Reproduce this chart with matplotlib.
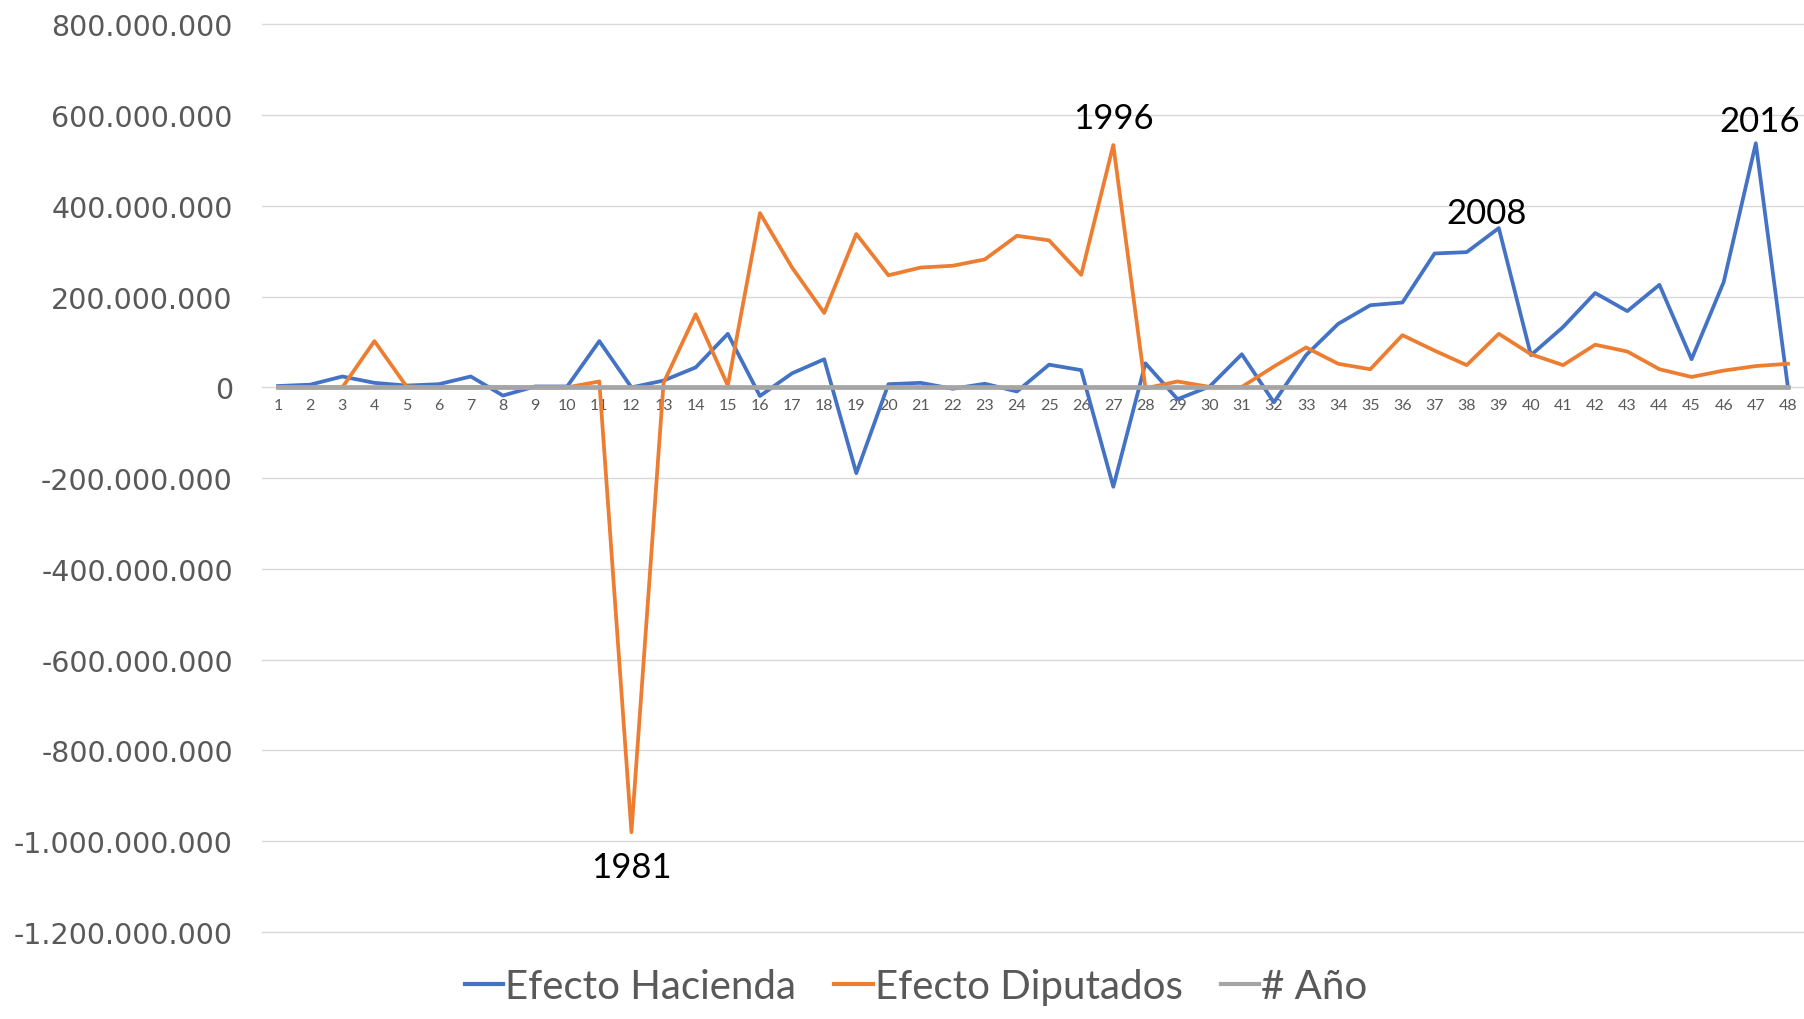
import matplotlib
matplotlib.use("Agg")
import matplotlib.pyplot as plt
from matplotlib.ticker import FuncFormatter

# ---- data ----
anio = [1, 2, 3, 4, 5, 6, 7, 8, 9, 10, 11, 12, 13, 14, 15, 16, 17, 18, 19, 20, 21, 22, 23, 24,
        25, 26, 27, 28, 29, 30, 31, 32, 33, 34, 35, 36, 37, 38, 39, 40, 41, 42, 43, 44, 45, 46, 47, 48]

efecto_hacienda = [3e6, 6e6, 24e6, 10e6, 4e6, 7e6, 24e6, -18e6, 2e6, 2e6, 102e6, 0, 15e6, 44e6,
                   118e6, -19e6, 31e6, 62e6, -189e6, 7e6, 10e6, -3e6, 8e6, -9e6, 50e6, 38e6,
                   -219e6, 53e6, -26e6, 2e6, 73e6, -33e6, 71e6, 140e6, 181e6, 187e6, 295e6,
                   298e6, 351e6, 71e6, 133e6, 208e6, 168e6, 226e6, 62e6, 232e6, 538e6, 0]

efecto_diputados = [0, 0, 0, 102e6, 2e6, 0, 0, 0, 0, 0, 13e6, -980e6, 10e6, 161e6, 4e6, 384e6,
                    264e6, 164e6, 338e6, 247e6, 264e6, 268e6, 282e6, 334e6, 324e6, 248e6, 534e6,
                    -2e6, 13e6, 1e6, 1e6, 46e6, 88e6, 52e6, 40e6, 115e6, 81e6, 49e6, 118e6, 73e6,
                    49e6, 94e6, 79e6, 40e6, 23e6, 37e6, 47e6, 52e6]

y_ticks = [-1.2e9, -1.0e9, -8e8, -6e8, -4e8, -2e8, 0, 2e8, 4e8, 6e8, 8e8]

# annotations: (label, series, index, offset in points)
notes = [("1981", "dip", 12, (0, -25)),
         ("1996", "dip", 27, (0, 19.5)),
         ("2008", "hac", 39, (-8.5, 11)),
         ("2016", "hac", 47, (3, 16))]

# ---- figure ----
W, H, DPI = 1804, 1020, 100
fig = plt.figure(figsize=(W / DPI, H / DPI), dpi=DPI)
ax = fig.add_axes([262 / W, 1 - 933 / H, 1 - 262 / W, (933 - 25.3) / H])

blue, orange, gray = "#4472C4", "#ED7D31", "#A5A5A5"
txt_gray = "#595959"

ax.plot(anio, efecto_hacienda, color=blue, lw=2.7, label="Efecto Hacienda", zorder=3)
ax.plot(anio, efecto_diputados, color=orange, lw=2.7, label="Efecto Diputados", zorder=3)
ax.plot(anio, anio, color=gray, lw=3.4, label="# Año", zorder=4)

ax.set_xlim(0.5, len(anio) + 0.5)
ax.set_ylim(-1.2e9, 8e8)
ax.set_yticks(y_ticks)
ax.yaxis.set_major_formatter(
    FuncFormatter(lambda v, p: "{:,.0f}".format(v).replace(",", ".")))
ax.set_xticks(anio)
ax.set_xticklabels([str(a) for a in anio])

ax.grid(axis="y", color="#D9D9D9", lw=1.0, zorder=0)
ax.grid(axis="x", visible=False)
for gl in ax.yaxis.get_gridlines():
    gl.set_clip_on(False)
for s in ax.spines.values():
    s.set_visible(False)
ax.spines["bottom"].set_position(("data", 0))

ax.tick_params(axis="y", length=0, pad=21, labelsize=20.5, labelcolor=txt_gray)
ax.tick_params(axis="x", length=0, pad=8, labelsize=11.5, labelcolor=txt_gray)
for lab in ax.get_yticklabels():
    lab.set_family(["DejaVu Sans"])
for lab in ax.get_xticklabels():
    lab.set_family(["Lato", "DejaVu Sans"])

narrow = ["Lato", "DejaVu Sans"]
series = {"hac": efecto_hacienda, "dip": efecto_diputados}
for label, key, idx, off in notes:
    ax.annotate(label, xy=(anio[idx - 1], series[key][idx - 1]), xytext=off,
                textcoords="offset points", ha="center", va="center",
                fontsize=25, family=narrow, color="black", zorder=5)

leg = fig.legend(loc="center", bbox_to_anchor=(916 / W, 1 - 988 / H), ncol=3,
                 frameon=False, prop={"family": narrow, "size": 29},
                 handlelength=0.95, handletextpad=0.05, columnspacing=0.95)
for t in leg.get_texts():
    t.set_color(txt_gray)
for l in leg.get_lines():
    l.set_linewidth(3)

fig.savefig("out.png", dpi=DPI)
